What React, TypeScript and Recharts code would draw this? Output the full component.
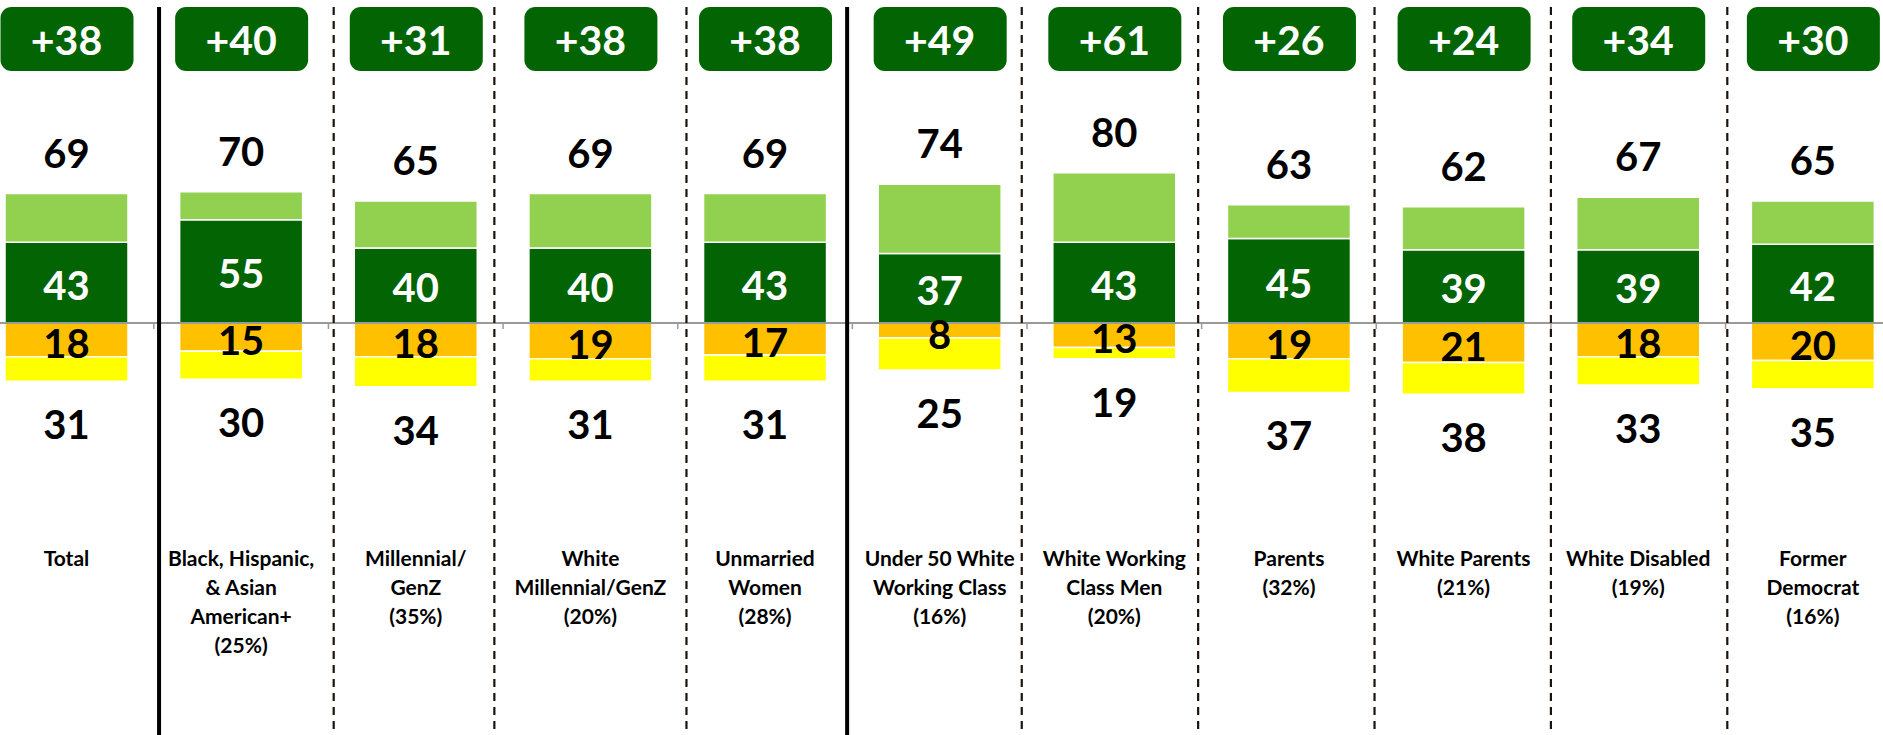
import React from "react";
import { Bar, BarChart, LabelList, ReferenceLine, XAxis, YAxis } from "recharts";

const categories = [
  "Total",
  "Black, Hispanic,\n& Asian\nAmerican+\n(25%)",
  "Millennial/\nGenZ\n(35%)",
  "White\nMillennial/GenZ\n(20%)",
  "Unmarried\nWomen\n(28%)",
  "Under 50 White\nWorking Class\n(16%)",
  "White Working\nClass Men\n(20%)",
  "Parents\n(32%)",
  "White Parents\n(21%)",
  "White Disabled\n(19%)",
  "Former\nDemocrat\n(16%)",
];
const totalFor = [69, 70, 65, 69, 69, 74, 80, 63, 62, 67, 65];
const strongFor = [43, 55, 40, 40, 43, 37, 43, 45, 39, 39, 42];
const strongAgainst = [18, 15, 18, 19, 17, 8, 13, 19, 21, 18, 20];
const totalAgainst = [31, 30, 34, 31, 31, 25, 19, 37, 38, 33, 35];
const netMargin = [38, 40, 31, 38, 38, 49, 61, 26, 24, 34, 30];
// separators between groups, in category-index units
const solidDividers = [0.53, 4.47];
const dashedDividers = [1.53, 2.45, 3.55, 5.47, 6.48, 7.49, 8.5, 9.51];

const rows = categories.map((name, i) => ({
  name,
  strong: strongFor[i],
  soft: totalFor[i] - strongFor[i],
  against: -strongAgainst[i],
  againstSoft: -(totalAgainst[i] - strongAgainst[i]),
  total: totalFor[i],
  totalAgainst: totalAgainst[i],
  strongAgainst: strongAgainst[i],
  net: netMargin[i],
}));

const FONT = "Lato, 'Open Sans', sans-serif";
const W = 1921;
const H = 735;
const BAND = W / categories.length;
const BASE_Y = 323;

function box(p: any) {
  const vb = p.viewBox && p.viewBox.width != null ? p.viewBox : p;
  const x = Number(vb.x);
  const y = Number(vb.y);
  const w = Number(vb.width);
  const h = Number(vb.height);
  return { cx: x + w / 2, top: Math.min(y, y + h), bottom: Math.max(y, y + h) };
}

function TopLabel(p: any) {
  const b = box(p);
  return (
    <text x={b.cx} y={b.top - 26} textAnchor="middle" fontFamily={FONT} fontWeight={700} fontSize={40} fill="#000">
      {p.value}
    </text>
  );
}

function BottomLabel(p: any) {
  const b = box(p);
  return (
    <text x={b.cx} y={b.bottom + 58} textAnchor="middle" fontFamily={FONT} fontWeight={700} fontSize={40} fill="#000">
      {p.value}
    </text>
  );
}

function InsideLabel(color: string, shift: number) {
  return (p: any) => {
    const b = box(p);
    return (
      <text x={b.cx} y={(b.top + b.bottom) / 2 + shift} textAnchor="middle" fontFamily={FONT} fontWeight={700} fontSize={40} fill={color}>
        {p.value}
      </text>
    );
  };
}

function Badge(p: any) {
  const b = box(p);
  return (
    <g>
      <rect x={b.cx - 66} y={7} width={133} height={64} rx={11} fill="#026402" />
      <text x={b.cx} y={55} textAnchor="middle" fontFamily={FONT} fontWeight={700} fontSize={41} fill="#fff">
        {`+${p.value}`}
      </text>
    </g>
  );
}

// category caption, group separators and axis tick marks, placed from each bar's centre
function CategoryDecor(p: any) {
  const b = box(p);
  const i = categories.indexOf(String(p.value));
  const lines = String(p.value).split("\n");
  const sep = (d: number) => b.cx + (d - i) * BAND;
  return (
    <g>
      <text textAnchor="middle" fontFamily={FONT} fontWeight={700} fontSize={21} fill="#000">
        {lines.map((line, k) => (
          <tspan key={k} x={b.cx} y={566 + k * 29}>
            {line}
          </tspan>
        ))}
      </text>
      {solidDividers
        .filter((d) => Math.floor(d) === i)
        .map((d) => (
          <line key={`s${d}`} x1={sep(d)} x2={sep(d)} y1={7} y2={H} stroke="#000" strokeWidth={4} />
        ))}
      {dashedDividers
        .filter((d) => Math.floor(d) === i)
        .map((d) => (
          <line key={`d${d}`} x1={sep(d)} x2={sep(d)} y1={7} y2={H} stroke="#1e140c" strokeWidth={2.2} strokeDasharray="8 6" />
        ))}
      <line x1={b.cx + BAND / 2} x2={b.cx + BAND / 2} y1={BASE_Y} y2={BASE_Y + 6} stroke="#9a9a9a" strokeWidth={1.5} />
    </g>
  );
}

export default function App() {
  return (
    <div style={{ position: "absolute", left: 0, top: 0, width: 1883, height: H, overflow: "hidden", background: "#fff" }}>
      <div style={{ marginLeft: -21 }}>
        <BarChart
          width={W}
          height={H}
          data={rows}
          stackOffset="sign"
          margin={{ top: 0, right: 0, bottom: 0, left: 0 }}
        >
          <XAxis dataKey="name" hide />
          <YAxis hide domain={[-219.5, 172.1]} allowDataOverflow />
          <Bar dataKey="strong" stackId="a" fill="#026402" stroke="#fff" strokeWidth={1.5} barSize={123} isAnimationActive={false}>
            <LabelList dataKey="strong" content={InsideLabel("#fff", 17)} />
            <LabelList dataKey="name" content={CategoryDecor} />
          </Bar>
          <Bar dataKey="soft" stackId="a" fill="#92d050" stroke="#fff" strokeWidth={1.5} barSize={123} isAnimationActive={false}>
            <LabelList dataKey="total" content={TopLabel} />
            <LabelList dataKey="net" content={Badge} />
          </Bar>
          <Bar dataKey="against" stackId="a" fill="#ffc000" stroke="#fff" strokeWidth={1.5} barSize={123} isAnimationActive={false}>
            <LabelList dataKey="strongAgainst" content={InsideLabel("#000", 18)} />
          </Bar>
          <Bar dataKey="againstSoft" stackId="a" fill="#ffff00" stroke="#fff" strokeWidth={1.5} barSize={123} isAnimationActive={false}>
            <LabelList dataKey="totalAgainst" content={BottomLabel} />
          </Bar>
          <ReferenceLine y={0} stroke="#9a9a9a" strokeWidth={2} />
        </BarChart>
      </div>
    </div>
  );
}
